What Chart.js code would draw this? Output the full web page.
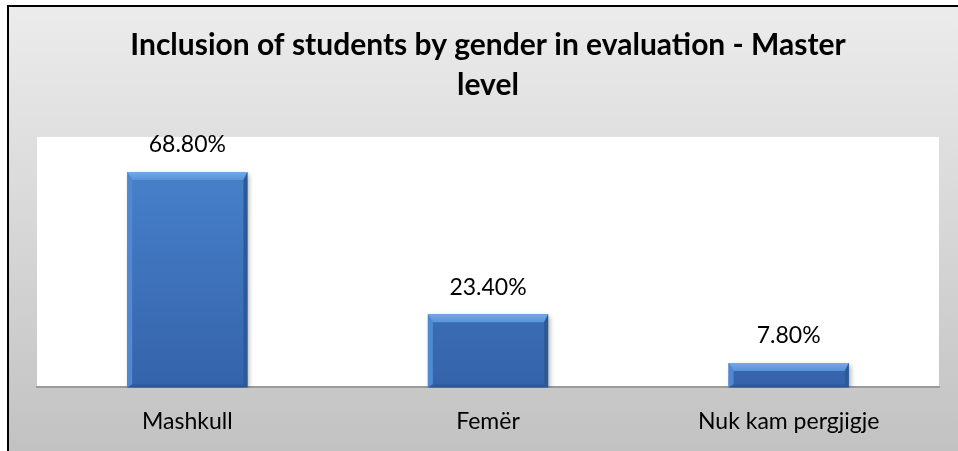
<!DOCTYPE html>
<html>
<head>
<meta charset="utf-8">
<script src="https://cdn.jsdelivr.net/npm/chart.js@4.4.1/dist/chart.umd.min.js"></script>
<style>
  html, body { margin: 0; padding: 0; background: #fff; }
  #wrap { width: 958px; height: 451px; }
</style>
</head>
<body>
<div id="wrap"><canvas id="myChart" width="958" height="451"></canvas></div>
<script>
const categories = ['Mashkull', 'Femër', 'Nuk kam pergjigje'];
const shares = [68.8, 23.4, 7.8];
const chartTitle = ['Inclusion of students by gender in evaluation - Master', 'level'];

// grey frame + white plot area behind the chart
const frame = {
  id: 'frame',
  beforeDraw(chart) {
    const { ctx, width, height, chartArea: a } = chart;
    ctx.save();
    ctx.fillStyle = '#fff';
    ctx.fillRect(0, 0, width, height);
    const g = ctx.createLinearGradient(0, 6, 0, height);
    g.addColorStop(0, '#ececec');
    g.addColorStop(1, '#c2c2c2');
    ctx.fillStyle = g;
    ctx.fillRect(8, 6, width - 8, height - 6);
    ctx.fillStyle = '#000';
    ctx.fillRect(7, 5, width - 7, 2);
    ctx.fillRect(7, 5, 2, height - 5);
    ctx.fillStyle = '#fff';
    ctx.fillRect(a.left, a.top, a.right - a.left, a.bottom - a.top);
    ctx.restore();
  }
};

// soft shadow under bars, bevel on top, value labels
const bevel = {
  id: 'bevel',
  beforeDatasetDraw(chart) {
    const ctx = chart.ctx;
    ctx.save();
    ctx.shadowColor = 'rgba(0,0,0,0.35)';
    ctx.shadowBlur = 5;
    ctx.shadowOffsetX = 2;
    ctx.shadowOffsetY = 2;
  },
  afterDatasetDraw(chart) {
    const ctx = chart.ctx;
    ctx.restore();
    const meta = chart.getDatasetMeta(0);
    meta.data.forEach((bar, i) => {
      const l = bar.x - bar.width / 2, r = bar.x + bar.width / 2;
      const t = bar.y, b = bar.base;
      const dt = 8, dl = 5, dr = 4, db = 3;
      const poly = (pts, c) => {
        ctx.beginPath();
        ctx.moveTo(pts[0][0], pts[0][1]);
        pts.slice(1).forEach(p => ctx.lineTo(p[0], p[1]));
        ctx.closePath();
        ctx.fillStyle = c;
        ctx.fill();
      };
      const tg = ctx.createLinearGradient(0, t, 0, t + dt);
      tg.addColorStop(0, '#74a9e8');
      tg.addColorStop(1, '#5892da');
      poly([[l, t], [r, t], [r - dr, t + dt], [l + dl, t + dt]], tg);
      poly([[l, t], [l + dl, t + dt], [l + dl, b - db], [l, b]], '#5088d2');
      poly([[r, t], [r, b], [r - dr, b - db], [r - dr, t + dt]], '#2c5a98');
      poly([[l, b], [l + dl, b - db], [r - dr, b - db], [r, b]], '#2d5a95');
      ctx.save();
      ctx.fillStyle = '#000';
      ctx.font = '23px Lato';
      ctx.textAlign = 'center';
      ctx.textBaseline = 'middle';
      ctx.fillText(shares[i].toFixed(2) + '%', bar.x, t - 27);
      ctx.restore();
    });
  }
};

const ctx = document.getElementById('myChart').getContext('2d');
new Chart(ctx, {
  type: 'bar',
  data: {
    labels: categories,
    datasets: [{
      data: shares,
      backgroundColor(c) {
        const a = c.chart.chartArea;
        if (!a) return '#3c72b9';
        const g = c.chart.ctx.createLinearGradient(0, a.top, 0, a.bottom);
        g.addColorStop(0, '#4a85cf');
        g.addColorStop(1, '#3463aa');
        return g;
      },
      borderWidth: 0,
      categoryPercentage: 1,
      barPercentage: 0.4
    }]
  },
  options: {
    responsive: false,
    animation: false,
    layout: { padding: { left: 37, right: 19, top: 0, bottom: -4 } },
    plugins: {
      legend: { display: false },
      tooltip: { enabled: false },
      title: {
        display: true,
        text: chartTitle,
        color: '#000',
        font: { family: 'Lato', size: 30, weight: 'bold', lineHeight: 40 / 30 },
        padding: { top: 25, bottom: 32 }
      }
    },
    scales: {
      x: {
        grid: { display: false, drawTicks: false },
        border: { display: true, color: '#9a9a9a', width: 2 },
        ticks: { color: '#000', padding: 20, font: { family: 'Lato', size: 23 } }
      },
      y: { display: false, min: 0, max: 80 }
    }
  },
  plugins: [frame, bevel]
});
</script>
</body>
</html>
